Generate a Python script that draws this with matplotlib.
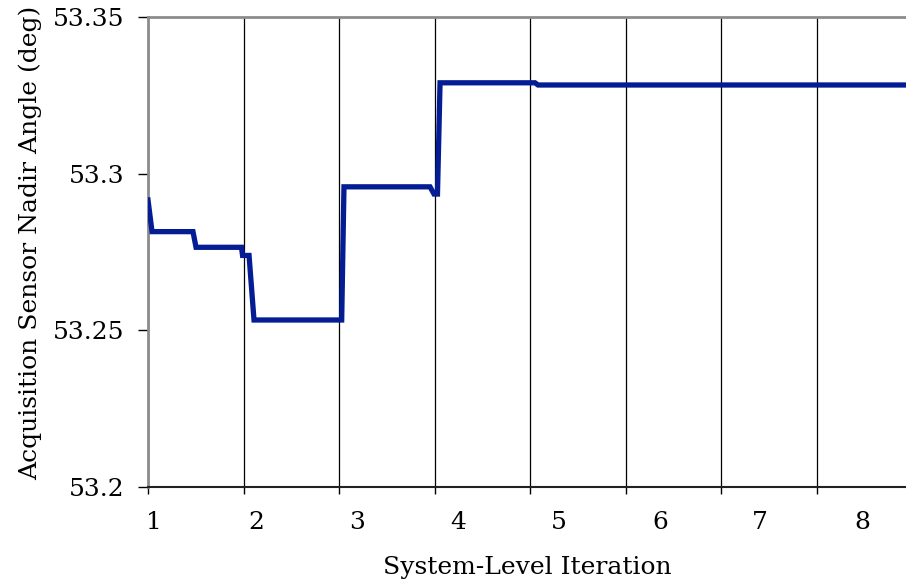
import matplotlib
matplotlib.use("Agg")
import matplotlib.pyplot as plt
from matplotlib.ticker import FixedLocator

# Vertices of the trace (x in iteration-grid units, y in degrees)
iter_x = [0.0, 0.042, 0.471, 0.503, 0.979, 0.99, 1.058, 1.11, 2.028, 2.052,
          2.953, 2.995, 3.031, 3.058, 4.052, 4.084, 7.937]
angle = [53.2916, 53.2815, 53.2815, 53.2765, 53.2765, 53.2739, 53.2739, 53.2533,
         53.2533, 53.2958, 53.2958, 53.2935, 53.2935, 53.3290, 53.3290, 53.3283, 53.3283]

grid_pos = [0, 1, 2, 3, 4, 5, 6, 7]
label_pos = [0.063, 1.13, 2.19, 3.25, 4.30, 5.36, 6.41, 7.48]
x_labels = ["1", "2", "3", "4", "5", "6", "7", "8"]
y_ticks = [53.2, 53.25, 53.3, 53.35]
y_labels = ["53.2", "53.25", "53.3", "53.35"]

plt.rcParams['font.family'] = ['DejaVu Serif']

fig = plt.figure(figsize=(9.06, 5.88), dpi=100)
ax = fig.add_axes([148/906, 101/588, 1 - 148/906, 470/588])

ax.plot(iter_x, angle, color='#041C94', lw=3.8, solid_joinstyle='miter', zorder=3)

ax.set_xlim(0, 7.937)
ax.set_ylim(53.2, 53.35)

ax.xaxis.set_major_locator(FixedLocator(label_pos))
ax.set_xticklabels(x_labels)
ax.xaxis.set_minor_locator(FixedLocator(grid_pos))
ax.tick_params(axis='x', which='major', length=0, pad=17, labelsize=18)
ax.tick_params(axis='x', which='minor', length=5, width=1, color='black', direction='out')
ax.grid(True, which='minor', axis='x', color='black', lw=0.9)

ax.set_yticks(y_ticks)
ax.set_yticklabels(y_labels)
ax.tick_params(axis='y', length=7, width=1, pad=10, labelsize=18, color='black')

for s in ['left', 'top']:
    ax.spines[s].set_color('#8c8c8c')
    ax.spines[s].set_linewidth(2)
ax.spines['bottom'].set_color('#222222')
ax.spines['bottom'].set_linewidth(1.5)
ax.spines['right'].set_visible(False)

ax.set_xlabel("System-Level Iteration", fontsize=18, labelpad=16)
ax.set_ylabel("Acquisition Sensor Nadir Angle (deg)", fontsize=18, labelpad=8)
ax.yaxis.label.set_y(0.52)

fig.savefig("out.png", dpi=100)
